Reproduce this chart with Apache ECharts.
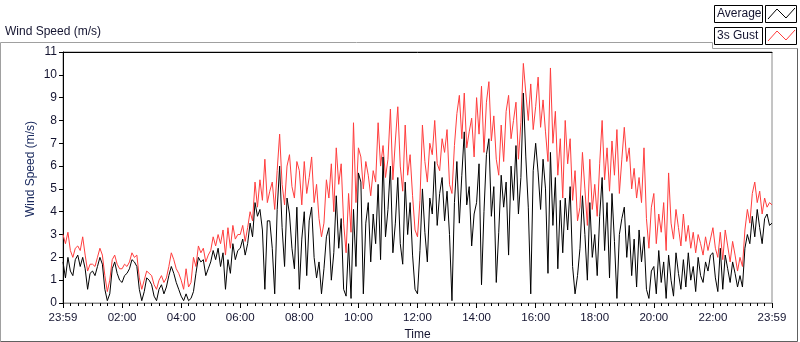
<!DOCTYPE html>
<html>
<head>
<meta charset="utf-8">
<title>Wind Speed</title>
<script src="https://cdn.jsdelivr.net/npm/echarts@6/dist/echarts.min.js"></script>
<style>
  html, body { margin: 0; padding: 0; background: #fff; }
  #chart { width: 800px; height: 342px; }
</style>
</head>
<body>
<div id="chart"></div>
<script>
let $ = a => document.querySelector(a)

// 5 minute samples, 00:00 .. 24:00 (one row per hour)
let stepMin = 5

let gustSpeed = [
  3.0, 2.6, 3.1, 2.3, 2.0, 2.4, 2.5, 2.3, 2.9, 2.1, 1.4, 1.7,
  1.7, 1.6, 2.0, 2.4, 2.1, 1.2, 0.5, 1.0, 1.9, 2.1, 1.7, 1.5,
  1.5, 1.7, 1.6, 1.8, 2.2, 2.0, 2.1, 1.1, 0.6, 1.0, 1.4, 1.3,
  1.2, 0.8, 0.6, 1.0, 1.2, 0.9, 1.1, 1.6, 2.2, 1.9, 1.5, 1.3,
  1.0, 0.6, 1.5, 0.7, 0.9, 2.0, 1.6, 2.5, 2.2, 2.4, 1.8, 2.1,
  2.3, 2.9, 2.5, 3.0, 2.6, 3.2, 2.1, 3.3, 2.4, 3.4, 2.8, 3.0,
  3.0, 3.4, 2.7, 3.3, 4.0, 3.6, 5.3, 4.2, 5.4, 4.5, 6.3, 4.4,
  4.9, 5.3, 4.1, 5.8, 7.4, 5.2, 4.3, 6.0, 6.5, 5.1, 4.6, 6.2,
  5.8, 4.3, 6.2, 4.8, 5.5, 6.4, 4.4, 5.2, 3.7, 2.9, 3.5, 5.4,
  4.6, 6.1, 4.0, 6.8, 5.2, 6.1, 3.5, 2.2, 4.8, 3.1, 7.9, 4.4,
  6.8, 6.4, 5.0, 6.2, 5.6, 4.7, 5.8, 5.3, 7.9, 6.0, 6.9, 5.5,
  6.3, 8.5, 5.4, 7.1, 8.6, 6.0, 4.9, 7.8, 5.6, 6.5, 4.7, 3.2,
  2.9, 4.5, 7.8, 6.2, 5.3, 7.0, 6.5, 8.0, 6.1, 5.8, 7.2, 6.6,
  7.6, 5.2, 4.8, 6.9, 8.3, 9.1, 7.2, 9.2, 6.8, 7.5, 8.1, 6.4,
  9.0, 7.4, 9.5, 6.6, 8.8, 9.7, 7.1, 8.2, 6.3, 5.6, 7.8, 6.2,
  8.4, 9.1, 7.2, 8.0, 8.8, 6.3, 7.9, 10.5, 9.2, 8.0, 9.6, 7.6,
  8.6, 9.9, 7.7, 8.9, 7.5, 6.2, 10.3, 7.0, 8.4, 5.6, 7.2, 4.6,
  8.0, 6.1, 7.2, 4.5, 5.8, 3.6, 4.2, 6.6, 5.0, 3.4, 6.3, 4.1,
  5.2, 3.8, 6.1, 8.0, 5.4, 6.8, 4.9, 7.1, 5.6, 7.6, 4.8, 6.3,
  7.7, 6.2, 6.8, 5.0, 5.9, 4.6, 5.5, 4.4, 6.8, 3.7, 2.4, 4.2,
  4.8, 2.6, 3.9, 3.1, 4.4, 2.3, 5.7, 3.5, 2.8, 4.1, 3.3, 2.5,
  3.9, 2.7, 3.4, 2.4, 3.1, 2.2, 3.0, 2.6, 2.1, 2.9, 2.3, 2.8,
  3.3, 2.4, 2.0, 3.1, 1.9, 3.2, 2.5, 1.8, 2.7, 2.1, 1.4, 2.0,
  1.6, 3.2, 4.1, 3.5, 4.8, 5.3, 4.4, 4.9, 3.9, 4.6, 4.2, 4.4,
  4.3
]

let avgSpeed = [
  1.8, 1.1, 2.0, 1.4, 1.2, 1.9, 2.1, 1.6, 2.0, 1.5, 0.6, 1.3,
  1.4, 1.2, 1.6, 2.0, 1.7, 0.6, 0.1, 0.4, 1.5, 1.8, 1.3, 1.0,
  0.9, 1.2, 1.3, 1.5, 1.9, 1.8, 1.6, 0.6, 0.1, 0.5, 1.1, 1.0,
  0.8, 0.3, 0.1, 0.6, 0.8, 0.4, 0.7, 1.2, 1.6, 1.3, 0.9, 0.6,
  0.3, 0.1, 0.4, 0.1, 0.2, 0.5, 1.3, 2.0, 1.8, 1.9, 1.2, 1.5,
  1.8, 2.3, 1.9, 2.4, 1.6, 2.2, 0.6, 1.9, 1.3, 2.6, 1.9, 2.3,
  2.4, 2.8, 2.1, 2.6, 3.5, 2.9, 4.4, 3.8, 4.1, 3.2, 0.6, 3.6,
  3.6, 2.4, 0.4, 4.1, 6.0, 3.3, 1.6, 4.6, 3.9, 2.4, 1.5, 4.2,
  0.6, 2.8, 4.0, 1.2, 3.6, 4.2, 2.0, 1.1, 1.8, 0.4, 1.5, 2.9,
  3.3, 1.0, 2.2, 4.7, 2.4, 3.7, 0.6, 0.3, 2.6, 0.2, 4.1, 1.6,
  5.7, 5.3, 0.4, 3.5, 4.4, 1.8, 3.9, 2.6, 5.2, 1.9, 6.4, 2.9,
  4.1, 6.0, 2.2, 3.5, 5.5, 2.6, 1.7, 5.3, 3.0, 4.4, 2.1, 0.6,
  0.4, 2.3, 5.0, 3.1, 1.8, 4.6, 3.9, 6.2, 3.4, 4.8, 5.5, 3.6,
  4.9, 3.0, 0.1, 4.4, 6.2, 3.5, 5.6, 7.5, 4.3, 5.1, 2.5, 3.9,
  4.4, 6.1, 0.8, 4.0, 6.5, 7.2, 3.8, 5.1, 0.9, 3.1, 5.6, 4.2,
  5.3, 2.1, 6.0, 4.5, 6.9, 3.9, 5.5, 9.2, 6.4, 4.2, 0.4, 5.8,
  7.0, 5.7, 4.1, 6.3, 5.0, 1.3, 6.6, 3.4, 5.5, 1.5, 4.5, 2.2,
  4.6, 3.2, 5.1, 1.6, 0.4, 1.2, 2.4, 4.7, 3.0, 1.0, 4.4, 2.0,
  3.0, 1.2, 3.8, 5.5, 2.3, 4.4, 1.1, 4.8, 2.7, 0.2, 3.0, 3.7,
  4.2, 2.0, 3.4, 1.2, 2.8, 0.7, 3.2, 1.8, 2.9, 0.6, 0.2, 1.4,
  1.6, 0.4, 2.3, 0.9, 1.8, 0.2, 2.1, 1.0, 0.3, 2.2, 1.3, 0.6,
  1.9, 0.7, 2.2, 1.0, 1.6, 0.5, 2.0, 1.2, 0.9, 1.8, 1.4, 2.1,
  2.2, 1.1, 0.5, 2.4, 0.6, 2.1, 1.5, 0.9, 1.8, 1.3, 0.7, 1.2,
  0.7, 2.4, 3.0, 2.6, 3.8, 2.9, 4.1, 3.3, 2.6, 3.7, 3.9, 3.4,
  3.5
]

let seriesNames = ['Average', '3s Gust']

let times = avgSpeed.map((v, i) => i * stepMin)

function timeLabel(m) {
    if (m === 0 || m === 1440) return '23:59'
    let h = Math.floor(m / 60)
    return (h < 10 ? '0' : '') + h + ':00'
}

let font = 'Liberation Sans'
let ink = '#141430'

echarts.init($('#chart')).setOption({
    animation: false,
    title: {
        text: 'Wind Speed (m/s)',
        left: 5, top: 26, padding: 0,
        textStyle: { fontFamily: font, fontSize: 12, fontWeight: 'normal', color: ink }
    },
    grid: {
        left: 63, right: 28, top: 52, bottom: 39,
        outerBoundsMode: 'none',
        show: true, borderColor: '#8a8a8a', borderWidth: 1, backgroundColor: '#fff'
    },
    xAxis: [{
        type: 'value',
        min: 0, max: 1440, interval: 120,
        name: 'Time', nameLocation: 'middle', nameGap: 25,
        nameTextStyle: { fontFamily: font, fontSize: 12, color: ink },
        axisLine: { lineStyle: { color: '#8a8a8a' } },
        axisTick: { length: 5, lineStyle: { color: '#000' } },
        minorTick: { show: true, splitNumber: 8, length: 3, lineStyle: { color: '#000' } },
        axisLabel: {
            margin: 9, showMinLabel: true, showMaxLabel: true,
            fontFamily: font, fontSize: 11.5, color: ink,
            formatter: timeLabel
        },
        splitLine: { show: false }
    }, {
        type: 'value', position: 'top',
        min: 0, max: 1440,
        axisLine: { show: true, lineStyle: { color: '#000' } },
        axisTick: { show: false }, axisLabel: { show: false }, splitLine: { show: false }
    }],
    yAxis: {
        type: 'value',
        min: 0, max: 11, interval: 1,
        axisLine: { show: true, lineStyle: { color: '#000' } },
        axisTick: { show: true, length: 4, lineStyle: { color: '#000' } },
        axisLabel: { margin: 6, fontFamily: font, fontSize: 12, color: ink },
        splitLine: { show: false }
    },
    series: [{
        name: seriesNames[1],
        type: 'line',
        showSymbol: false,
        lineStyle: { color: '#ff3d3d', width: 1 },
        data: times.map((t, i) => [t, gustSpeed[i]])
    }, {
        name: seriesNames[0],
        type: 'line',
        showSymbol: false,
        lineStyle: { color: '#000', width: 1 },
        data: times.map((t, i) => [t, avgSpeed[i]])
    }],
    graphic: [
        // y axis title
        {
            type: 'text', x: 31, y: 169, rotation: Math.PI / 2,
            style: { text: 'Wind Speed (m/s)', font: '12px ' + font, fill: '#1c2c60', align: 'center', verticalAlign: 'middle' }
        },
        // panel frame
        { type: 'polyline', shape: { points: [[0.5, 341.5], [0.5, 42.5], [712.5, 42.5], [712.5, 48.5], [797.5, 48.5]] }, style: { stroke: '#a0a0a0', fill: null } },
        { type: 'polyline', shape: { points: [[0.5, 341.5], [797.5, 341.5], [797.5, 48.5]] }, style: { stroke: '#606060', fill: null } },
        // legend: Average
        { type: 'rect', shape: { x: 714.5, y: 5.5, width: 48, height: 17 }, style: { fill: '#fff', stroke: '#000' } },
        { type: 'text', x: 717, y: 14, style: { text: seriesNames[0], font: '12px ' + font, fill: ink, verticalAlign: 'middle' } },
        { type: 'rect', shape: { x: 765.5, y: 5.5, width: 31, height: 17 }, style: { fill: '#fff', stroke: '#000' } },
        { type: 'polyline', shape: { points: [[768, 19], [777, 9], [786, 18], [795, 8]] }, style: { stroke: '#000', fill: null } },
        // legend: 3s Gust
        { type: 'rect', shape: { x: 714.5, y: 27.5, width: 48, height: 17 }, style: { fill: '#fff', stroke: '#000' } },
        { type: 'text', x: 717, y: 36, style: { text: seriesNames[1], font: '12px ' + font, fill: ink, verticalAlign: 'middle' } },
        { type: 'rect', shape: { x: 765.5, y: 27.5, width: 31, height: 17 }, style: { fill: '#fff', stroke: '#000' } },
        { type: 'polyline', shape: { points: [[768, 41], [777, 31], [786, 40], [795, 30]] }, style: { stroke: '#ff3d3d', fill: null } }
    ]
})
</script>
</body>
</html>
